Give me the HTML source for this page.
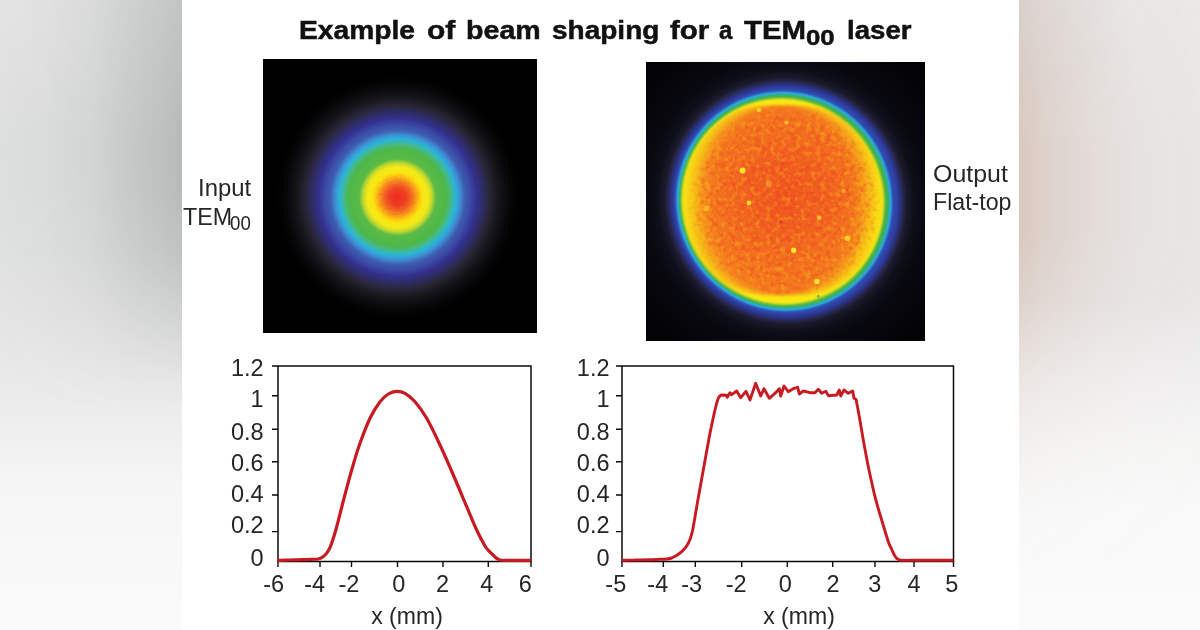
<!DOCTYPE html>
<html>
<head>
<meta charset="utf-8">
<title>Example of beam shaping for a TEM00 laser</title>
<style>
html,body{margin:0;padding:0;}
body{width:1200px;height:630px;overflow:hidden;background:#fff;font-family:"Liberation Sans",sans-serif;color:#111;}
#stage{position:relative;width:1200px;height:630px;overflow:hidden;background:#fff;}
#bgL{position:absolute;left:0;top:0;width:182px;height:630px;
  background:linear-gradient(to bottom,#e3e4e3 0px,#dddfde 150px,#dfe1e0 250px,#e4e5e4 330px,#ebebeb 400px,#f5f5f5 480px,#f8f8f8 550px,#fafafa 630px);}
#bgL i{position:absolute;left:0;top:0;width:182px;height:630px;display:block;
  background:linear-gradient(to right,rgba(140,146,144,0) 0px,rgba(140,146,144,0.03) 40px,rgba(140,146,144,0.13) 90px,rgba(140,146,144,0.30) 135px,rgba(140,146,144,0.47) 182px);
  -webkit-mask-image:linear-gradient(to bottom,rgba(0,0,0,0.8) 0px,rgba(0,0,0,1) 130px,rgba(0,0,0,1) 190px,rgba(0,0,0,0.82) 250px,rgba(0,0,0,0.35) 330px,rgba(0,0,0,0.08) 380px,rgba(0,0,0,0) 410px);
  mask-image:linear-gradient(to bottom,rgba(0,0,0,0.8) 0px,rgba(0,0,0,1) 130px,rgba(0,0,0,1) 190px,rgba(0,0,0,0.82) 250px,rgba(0,0,0,0.35) 330px,rgba(0,0,0,0.08) 380px,rgba(0,0,0,0) 410px);}
#bgR{position:absolute;left:1019px;top:0;width:181px;height:630px;
  background:linear-gradient(to bottom,#ebeae9 0px,#e9e8e7 150px,#e9e8e7 300px,#edecec 340px,#f1f0f0 380px,#f6f6f5 450px,#f9f9f9 510px,#fbfbfb 630px);}
#bgR i{position:absolute;left:0;top:0;width:181px;height:630px;display:block;
  background:linear-gradient(to right,rgba(201,168,151,0.5) 0px,rgba(201,168,151,0.38) 21px,rgba(201,168,151,0.26) 51px,rgba(201,168,151,0.16) 81px,rgba(201,168,151,0.08) 121px,rgba(201,168,151,0.02) 181px);
  -webkit-mask-image:linear-gradient(to bottom,rgba(0,0,0,0.55) 0px,rgba(0,0,0,0.82) 75px,rgba(0,0,0,1) 150px,rgba(0,0,0,1) 230px,rgba(0,0,0,0.7) 300px,rgba(0,0,0,0.48) 340px,rgba(0,0,0,0.28) 380px,rgba(0,0,0,0.11) 450px,rgba(0,0,0,0.03) 520px,rgba(0,0,0,0) 600px);
  mask-image:linear-gradient(to bottom,rgba(0,0,0,0.55) 0px,rgba(0,0,0,0.82) 75px,rgba(0,0,0,1) 150px,rgba(0,0,0,1) 230px,rgba(0,0,0,0.7) 300px,rgba(0,0,0,0.48) 340px,rgba(0,0,0,0.28) 380px,rgba(0,0,0,0.11) 450px,rgba(0,0,0,0.03) 520px,rgba(0,0,0,0) 600px);}
#bgR b{position:absolute;left:0;top:0;width:181px;height:120px;display:block;
  background:linear-gradient(to right,rgba(150,150,150,0.10) 0px,rgba(150,150,150,0.05) 50px,rgba(150,150,150,0) 110px);
  -webkit-mask-image:linear-gradient(to bottom,#000 0px,rgba(0,0,0,0) 120px);mask-image:linear-gradient(to bottom,#000 0px,rgba(0,0,0,0) 120px);}
.t{position:absolute;white-space:nowrap;line-height:1;opacity:0.999;}
.title{font-weight:bold;font-size:26px;top:17.3px;color:#111;-webkit-text-stroke:0.5px #111;}
.lab{font-size:24.5px;color:#262626;}
.ax{font-size:23.5px;color:#262626;}
.r{text-align:right;width:100px;}
.c{transform:translateX(-50%);}
.xl{font-size:24px;transform:translateX(-50%) scaleX(0.96);}
.title,.lab{transform-origin:0 0;}
#imgL{position:absolute;left:263px;top:59px;width:274px;height:274px;background:#000;overflow:hidden;}
#imgR{position:absolute;left:646px;top:62px;width:279px;height:279px;background:#000;overflow:hidden;}
svg{position:absolute;left:0;top:0;}
</style>
</head>
<body>
<div id="stage">
  <div id="bgL"><i></i></div>
  <div id="bgR"><i></i><b></b></div>

  <!-- title -->
  <div class="t title" id="w1" style="left:299px;transform:scaleX(1.085);">Example</div>
  <div class="t title" id="w2" style="left:427px;transform:scaleX(1.154);">of</div>
  <div class="t title" id="w3" style="left:466px;transform:scaleX(1.100);">beam</div>
  <div class="t title" id="w4" style="left:552px;transform:scaleX(1.077);">shaping</div>
  <div class="t title" id="w5" style="left:670px;transform:scaleX(1.135);">for</div>
  <div class="t title" id="w6" style="left:719px;transform:scaleX(0.923);">a</div>
  <div class="t title" id="w7" style="left:744px;transform:scaleX(1.130);">TEM</div>
  <div class="t title" id="w8" style="left:806px;top:27px;font-size:22px;transform:scaleX(1.173);">00</div>
  <div class="t title" id="w9" style="left:847px;transform:scaleX(1.062);">laser</div>

  <!-- side labels -->
  <div class="t lab" id="l1" style="left:198px;top:176px;transform:scaleX(0.975);">Input</div>
  <div class="t lab" id="l2" style="left:183px;top:204.6px;transform:scaleX(0.95);">TEM</div>
  <div class="t lab" id="l2b" style="left:229.5px;top:214px;font-size:19.5px;transform:scaleX(0.96);">00</div>
  <div class="t lab" id="l3" style="left:933px;top:161.7px;transform:scaleX(1.018);">Output</div>
  <div class="t lab" id="l4" style="left:933px;top:189.8px;transform:scaleX(0.945);">Flat-top</div>

  <!-- y axis labels (left chart) -->
  <div class="t ax r" style="left:163.7px;top:357.1px;">1.2</div>
  <div class="t ax r" style="left:163.7px;top:388.1px;">1</div>
  <div class="t ax r" style="left:163.7px;top:420.6px;">0.8</div>
  <div class="t ax r" style="left:163.7px;top:451.8px;">0.6</div>
  <div class="t ax r" style="left:163.7px;top:483.3px;">0.4</div>
  <div class="t ax r" style="left:163.7px;top:514.4px;">0.2</div>
  <div class="t ax r" style="left:163.7px;top:546.8px;">0</div>
  <!-- y axis labels (right chart) -->
  <div class="t ax r" style="left:509.5px;top:357.1px;">1.2</div>
  <div class="t ax r" style="left:509.5px;top:388.1px;">1</div>
  <div class="t ax r" style="left:509.5px;top:420.6px;">0.8</div>
  <div class="t ax r" style="left:509.5px;top:451.8px;">0.6</div>
  <div class="t ax r" style="left:509.5px;top:483.3px;">0.4</div>
  <div class="t ax r" style="left:509.5px;top:514.4px;">0.2</div>
  <div class="t ax r" style="left:509.5px;top:546.8px;">0</div>
  <!-- x axis labels (left chart) -->
  <div class="t ax c" style="left:273.7px;top:573px;">-6</div>
  <div class="t ax c" style="left:314.7px;top:573px;">-4</div>
  <div class="t ax c" style="left:349.0px;top:573px;">-2</div>
  <div class="t ax c" style="left:398.7px;top:573px;">0</div>
  <div class="t ax c" style="left:442.5px;top:573px;">2</div>
  <div class="t ax c" style="left:486.7px;top:573px;">4</div>
  <div class="t ax c" style="left:525.4px;top:573px;">6</div>
  <div class="t ax c xl" style="left:407.1px;top:603.6px;">x (mm)</div>
  <!-- x axis labels (right chart) -->
  <div class="t ax c" style="left:615.8px;top:573px;">-5</div>
  <div class="t ax c" style="left:657.8px;top:573px;">-4</div>
  <div class="t ax c" style="left:691.6px;top:573px;">-3</div>
  <div class="t ax c" style="left:736.1px;top:573px;">-2</div>
  <div class="t ax c" style="left:785.3px;top:573px;">0</div>
  <div class="t ax c" style="left:833.0px;top:573px;">2</div>
  <div class="t ax c" style="left:874.8px;top:573px;">3</div>
  <div class="t ax c" style="left:914.0px;top:573px;">4</div>
  <div class="t ax c" style="left:951.7px;top:573px;">5</div>
  <div class="t ax c xl" style="left:798.8px;top:603.6px;">x (mm)</div>

  <div id="imgL">
    <svg width="274" height="274" viewBox="0 0 274 274">
      <defs>
        <radialGradient id="gL" gradientUnits="userSpaceOnUse" cx="134.6" cy="138.4" r="122">
          <stop offset="0.0000" stop-color="#ee2d24"/>
          <stop offset="0.0697" stop-color="#ef3f23"/>
          <stop offset="0.1107" stop-color="#f26522"/>
          <stop offset="0.1475" stop-color="#f7941d"/>
          <stop offset="0.1803" stop-color="#fdc60f"/>
          <stop offset="0.2090" stop-color="#f9e614"/>
          <stop offset="0.2500" stop-color="#f2ea16"/>
          <stop offset="0.2828" stop-color="#bfd730"/>
          <stop offset="0.3156" stop-color="#5bba47"/>
          <stop offset="0.4016" stop-color="#4db848"/>
          <stop offset="0.4402" stop-color="#45b98c"/>
          <stop offset="0.4779" stop-color="#29b4dc"/>
          <stop offset="0.5115" stop-color="#3f8fd2"/>
          <stop offset="0.5533" stop-color="#3d5cb0"/>
          <stop offset="0.5951" stop-color="#3b4ba6"/>
          <stop offset="0.6475" stop-color="#33308f"/>
          <stop offset="0.7049" stop-color="#2e2c60"/>
          <stop offset="0.7623" stop-color="#272532"/>
          <stop offset="0.8279" stop-color="#16151b"/>
          <stop offset="0.9180" stop-color="#070708"/>
          <stop offset="0.9918" stop-color="#000"/>
        </radialGradient>
        <filter id="dL" x="0" y="0" width="100%" height="100%" color-interpolation-filters="sRGB">
          <feTurbulence type="fractalNoise" baseFrequency="0.35" numOctaves="1" seed="11" result="n"/>
          <feDisplacementMap in="SourceGraphic" in2="n" scale="3" xChannelSelector="R" yChannelSelector="G"/>
        </filter>
      </defs>
      <rect width="274" height="274" fill="#000"/>
      <circle cx="134.6" cy="138.4" r="122" fill="url(#gL)"/>
      <g filter="url(#dL)"><circle cx="134.6" cy="138.4" r="29" fill="url(#gL)"/></g>
    </svg>
  </div>
  <div id="imgR">
    <svg width="279" height="279" viewBox="0 0 279 279">
      <defs>
        <radialGradient id="gRo" gradientUnits="userSpaceOnUse" cx="139.6" cy="139.25" r="180" gradientTransform="translate(139.6 139.25) matrix(1.002 0.008 0.008 1.0198 0 0) translate(-139.6 -139.25)">
          <stop offset="0.0000" stop-color="#3046a8"/>
          <stop offset="0.6111" stop-color="#3046a8"/>
          <stop offset="0.6250" stop-color="#2b3b9c"/>
          <stop offset="0.6389" stop-color="#2b2f7a"/>
          <stop offset="0.6528" stop-color="#27274c"/>
          <stop offset="0.6722" stop-color="#1a1a2c"/>
          <stop offset="0.7111" stop-color="#0f0f1b"/>
          <stop offset="0.7778" stop-color="#08080f"/>
          <stop offset="1.0000" stop-color="#030306"/>
        </radialGradient>
        <radialGradient id="gR" gradientUnits="userSpaceOnUse" cx="138.1" cy="139.25" r="180" gradientTransform="translate(138.1 139.25) matrix(1.002 0.008 0.008 1.0198 0 0) translate(-138.1 -139.25)">
          <stop offset="0.0000" stop-color="#45b049"/>
          <stop offset="0.5722" stop-color="#43b04a"/>
          <stop offset="0.5811" stop-color="#2fae8a"/>
          <stop offset="0.5906" stop-color="#29abe2"/>
          <stop offset="0.5989" stop-color="#2f6fc4"/>
          <stop offset="0.6078" stop-color="#3046a8"/>
          <stop offset="0.6167" stop-color="#3046a8" stop-opacity="0"/>
        </radialGradient>
        <radialGradient id="gC" gradientUnits="userSpaceOnUse" cx="140" cy="132" r="92">
          <stop offset="0" stop-color="#ee4723" stop-opacity="0.72"/>
          <stop offset="0.45" stop-color="#ef4d23" stop-opacity="0.55"/>
          <stop offset="0.8" stop-color="#f05a23" stop-opacity="0.2"/>
          <stop offset="1" stop-color="#f05a23" stop-opacity="0"/>
        </radialGradient>
        <filter id="bo" x="-20%" y="-20%" width="140%" height="140%" color-interpolation-filters="sRGB"><feGaussianBlur stdDeviation="10 1.5"/></filter>
        <filter id="bc" x="-10%" y="-10%" width="120%" height="120%" color-interpolation-filters="sRGB"><feGaussianBlur stdDeviation="1.6"/></filter>
        <filter id="bs" x="-5%" y="-5%" width="110%" height="110%" color-interpolation-filters="sRGB"><feGaussianBlur stdDeviation="0.7"/></filter>
        <filter id="by" x="-10%" y="-10%" width="120%" height="120%" color-interpolation-filters="sRGB"><feGaussianBlur stdDeviation="1.3"/></filter>
        <filter id="nz" x="0" y="0" width="100%" height="100%" color-interpolation-filters="sRGB">
          <feTurbulence type="fractalNoise" baseFrequency="0.2" numOctaves="2" seed="7" result="n"/>
          <feColorMatrix in="n" type="matrix" values="0 0 0 0 0.93  0 0 0 0 0.22  0 0 0 0 0.13  3.2 0 0 0 -1.4" result="red"/>
          <feColorMatrix in="n" type="matrix" values="0 0 0 0 0.99  0 0 0 0 0.78  0 0 0 0 0.08  0 3.2 0 0 -1.55" result="yel"/>
          <feMerge><feMergeNode in="red"/><feMergeNode in="yel"/></feMerge>
        </filter>
        <clipPath id="cpO"><ellipse cx="136.9" cy="139.45" rx="100" ry="102.3"/></clipPath>
        <clipPath id="cpR"><ellipse cx="138.4" cy="139.25" rx="99" ry="101"/></clipPath>
        <radialGradient id="gM" gradientUnits="userSpaceOnUse" cx="139" cy="139.25" r="100"><stop offset="0" stop-color="#fff"/><stop offset="0.84" stop-color="#fff"/><stop offset="0.99" stop-color="#000"/></radialGradient>
        <mask id="mR"><rect width="279" height="279" fill="#000"/><ellipse cx="139" cy="139.25" rx="98" ry="100" fill="url(#gM)"/></mask>
      </defs>
      <rect width="279" height="279" fill="#030306"/>
      <rect width="279" height="279" fill="url(#gRo)"/>
      <rect width="279" height="279" fill="url(#gR)"/>
      <ellipse cx="136.9" cy="139.45" rx="101.2" ry="101.2" fill="#f9e814" filter="url(#by)" transform="translate(136.9 139.45) matrix(1.002 0.008 0.008 1.0198 0 0) translate(-136.9 -139.45)"/>
      <g clip-path="url(#cpO)"><polygon points="219.8,138.2 219.7,145.5 219.3,152.9 218.6,160.4 217.4,167.9 215.7,175.5 213.3,183.0 210.3,190.4 206.6,197.6 202.0,204.5 196.7,210.8 190.6,216.5 183.8,221.5 176.5,225.6 168.7,228.8 160.6,231.0 152.4,232.5 144.1,233.2 135.8,233.4 127.4,233.2 119.1,232.5 110.9,231.0 102.8,228.8 95.0,225.6 87.7,221.5 80.9,216.5 74.8,210.8 69.5,204.5 64.9,197.6 61.2,190.4 58.2,183.0 55.8,175.5 54.1,167.9 52.9,160.4 52.2,152.9 51.8,145.5 51.7,138.2 51.8,130.9 52.2,123.5 52.9,116.0 54.1,108.5 55.8,100.9 58.2,93.4 61.2,86.0 64.9,78.8 69.5,71.9 74.8,65.6 80.9,59.9 87.7,54.9 95.0,50.8 102.8,47.6 110.9,45.4 119.1,43.9 127.4,43.2 135.7,43.0 144.1,43.2 152.4,43.9 160.6,45.4 168.7,47.6 176.5,50.8 183.8,54.9 190.6,59.9 196.7,65.6 202.0,71.9 206.6,78.8 210.3,86.0 213.3,93.4 215.7,100.9 217.4,108.5 218.6,116.0 219.3,123.5 219.7,130.9" fill="#f47a20" filter="url(#bo)"/></g>
      <ellipse cx="139" cy="139.25" rx="92" ry="96.5" fill="url(#gC)"/>
      <g mask="url(#mR)"><rect x="30" y="30" width="220" height="220" filter="url(#nz)" opacity="0.36"/></g>
      <g filter="url(#bs)"><circle cx="112.9" cy="48.1" r="2.2" fill="#fde62a" opacity="0.80"/><circle cx="140.5" cy="60.5" r="2.0" fill="#fde62a" opacity="0.70"/><circle cx="96.6" cy="108.4" r="3.0" fill="#fde62a" opacity="1.00"/><circle cx="102.9" cy="141.0" r="2.4" fill="#fde62a" opacity="0.90"/><circle cx="173.2" cy="155.8" r="2.2" fill="#fde62a" opacity="0.70"/><circle cx="197.5" cy="128.9" r="2.2" fill="#fde62a" opacity="0.50"/><circle cx="147.6" cy="188.2" r="2.6" fill="#fde62a" opacity="1.00"/><circle cx="201.6" cy="176.2" r="2.8" fill="#fde62a" opacity="0.80"/><circle cx="170.9" cy="219.4" r="2.7" fill="#fde62a" opacity="1.00"/><circle cx="60.2" cy="146.4" r="2.6" fill="#fde62a" opacity="0.50"/><circle cx="122.9" cy="122.0" r="3.2" fill="#fde62a" opacity="0.35"/><circle cx="135" cy="160" r="1.4" fill="#d8301f" opacity="0.8"/><circle cx="172.4" cy="234.3" r="1.6" fill="#7fb53a" opacity="0.9"/></g>
    </svg>
  </div>

  <svg id="charts" width="1200" height="630" viewBox="0 0 1200 630">
    <rect x="278.0" y="366.0" width="253.0" height="195.5" fill="#fff" stroke="#0a0a0a" stroke-width="1.5"/>
    <path d="M278.0,561.5V567.0M320.0,561.5V567.0M351.5,561.5V567.0M397.5,561.5V567.0M443.0,561.5V567.0M488.3,561.5V567.0M531.0,561.5V567.0M278.0,395.7H272.0M278.0,429.2H272.0M278.0,461.8H272.0M278.0,495.0H272.0M278.0,531.6H272.0M278.0,366.0H272.0" stroke="#0a0a0a" stroke-width="1.4" fill="none"/>
    <rect x="622.0" y="366.0" width="331.5" height="195.5" fill="#fff" stroke="#0a0a0a" stroke-width="1.5"/>
    <path d="M622.0,561.5V567.0M663.3,561.5V567.0M695.3,561.5V567.0M741.7,561.5V567.0M787.3,561.5V567.0M832.7,561.5V567.0M875.0,561.5V567.0M914.0,561.5V567.0M953.5,561.5V567.0M622.0,395.7H616.0M622.0,429.2H616.0M622.0,461.8H616.0M622.0,495.0H616.0M622.0,531.6H616.0M622.0,366.0H616.0" stroke="#0a0a0a" stroke-width="1.4" fill="none"/>
    <path d="M277.3,560.3C279.4,560.3 285.7,560.1 290.0,560.0C294.3,559.9 299.6,559.8 303.3,559.7C307.1,559.6 310.2,559.4 312.7,559.3C315.2,559.2 316.7,559.3 318.3,559.0C319.9,558.7 321.1,558.2 322.3,557.3C323.6,556.5 324.9,555.2 326.0,554.0C327.1,552.8 327.8,551.6 328.7,550.0C329.6,548.4 330.0,548.2 331.3,544.3C332.7,540.4 334.6,534.3 336.7,526.7C338.8,519.0 341.5,507.8 344.0,498.3C346.5,488.9 349.0,479.2 351.7,470.0C354.3,460.8 356.9,451.9 360.0,443.3C363.1,434.7 366.7,425.3 370.0,418.3C373.3,411.4 376.9,405.7 380.0,401.7C383.1,397.6 385.6,395.7 388.3,394.0C391.1,392.3 393.9,391.4 396.7,391.3C399.4,391.2 401.9,391.6 405.0,393.3C408.1,395.1 411.4,397.5 415.0,401.7C418.6,405.8 422.5,411.1 426.7,418.3C430.8,425.6 435.6,435.6 440.0,445.0C444.4,454.4 448.9,464.7 453.3,475.0C457.8,485.3 462.8,497.5 466.7,506.7C470.6,515.8 473.6,523.4 476.7,530.0C479.7,536.6 482.9,542.4 485.0,546.0C487.1,549.6 487.9,549.8 489.3,551.3C490.7,552.9 492.1,554.2 493.3,555.3C494.6,556.5 495.6,557.6 496.7,558.3C497.8,559.1 498.6,559.7 500.0,560.0C501.4,560.3 502.2,560.3 505.0,560.3C507.8,560.4 512.4,560.3 516.7,560.3C520.9,560.3 528.3,560.3 530.7,560.3" stroke="#c71a22" stroke-width="3.2" fill="none" stroke-linejoin="round" stroke-linecap="butt"/>
    <path d="M622.0,560.3C624.4,560.3 632.0,560.1 636.7,560.0C641.3,559.9 646.1,559.8 650.0,559.7C653.9,559.6 657.2,559.4 660.0,559.3C662.8,559.2 664.7,559.2 666.7,559.0C668.6,558.8 670.2,558.5 671.7,558.0C673.2,557.5 674.3,556.8 675.7,556.0C677.1,555.2 678.6,554.1 680.0,553.0C681.4,551.9 682.8,550.7 684.0,549.3C685.2,548.0 686.3,546.7 687.3,545.0C688.3,543.3 689.1,541.8 690.0,539.3C690.9,536.8 691.4,536.0 692.7,530.0C693.9,524.0 695.6,513.3 697.3,503.3C699.1,493.3 701.3,481.1 703.3,470.0C705.3,458.9 707.4,446.7 709.3,436.7C711.3,426.7 713.5,416.4 715.0,410.0C716.5,403.6 717.3,400.8 718.3,398.3C719.3,395.8 720.6,395.6 721.0,395.0 L721.0,395.0 L726.7,395.3 L727.3,397.3 L730.0,392.7 L731.7,394.7 L736.7,391.0 L740.7,397.7 L746.0,391.3 L750.0,400.0 L755.7,383.3 L760.7,396.0 L764.0,388.7 L769.3,398.3 L775.7,392.7 L779.3,388.7 L780.7,396.0 L784.0,386.0 L788.3,391.7 L794.0,388.3 L797.7,387.3 L799.3,394.0 L803.3,391.0 L810.0,392.7 L815.0,392.7 L818.3,389.3 L821.7,393.3 L826.0,391.3 L828.3,395.7 L836.7,395.0 L839.3,390.0 L840.7,396.0 L844.0,390.0 L848.3,393.3 L852.7,391.0 L854.0,398.3 L856.0,399.3 L856.0,399.3C856.6,402.2 858.1,409.9 859.3,416.7C860.6,423.4 861.8,431.7 863.3,440.0C864.8,448.3 866.4,457.2 868.3,466.7C870.3,476.1 872.8,487.8 875.0,496.7C877.2,505.6 879.4,512.5 881.7,520.0C883.9,527.5 886.7,536.8 888.3,541.7C890.0,546.6 890.7,547.1 891.7,549.3C892.7,551.6 893.5,553.5 894.3,555.0C895.2,556.5 895.8,557.5 896.7,558.3C897.5,559.2 898.2,559.7 899.3,560.0C900.4,560.3 900.4,560.3 903.3,560.3C906.2,560.4 911.1,560.3 916.7,560.3C922.2,560.3 930.6,560.3 936.7,560.3C942.8,560.3 950.6,560.3 953.3,560.3" stroke="#c71a22" stroke-width="2.9" fill="none" stroke-linejoin="round" stroke-linecap="butt"/>
  </svg>
</div>
</body>
</html>
